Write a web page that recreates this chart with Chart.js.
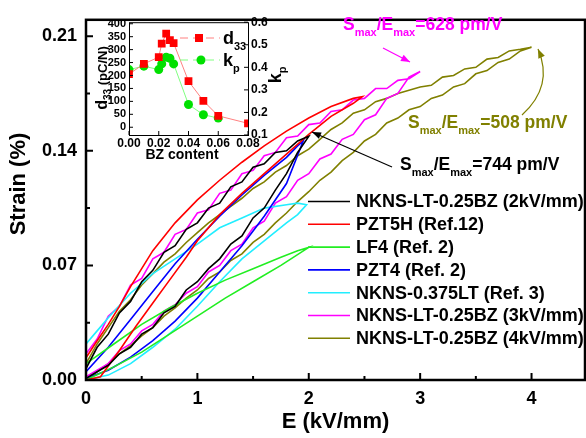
<!DOCTYPE html>
<html>
<head>
<meta charset="utf-8">
<script src="https://cdn.jsdelivr.net/npm/chart.js@4.4.0/dist/chart.umd.min.js"></script>
<style>
  body { margin: 0; background: #fff; }
  #wrap { position: relative; width: 586px; height: 438px; }
  #main { position: absolute; left: 0; top: 0; }
  #inset { position: absolute; left: 88px; top: 12px; }
</style>
</head>
<body>
<div id="wrap">
  <canvas id="main" width="586" height="438"></canvas>
  <canvas id="inset" width="206" height="160"></canvas>
</div>
<script>
const FONT = "'Liberation Sans', Arial, sans-serif";
Chart.defaults.font.family = FONT;
Chart.defaults.color = '#000';

// strain loops: ascending branch, then descending branch back to E = 0
const blackE = [0,0.1,0.2,0.3,0.4,0.5,0.6,0.7,0.8,0.9,1.0,1.1,1.2,1.3,1.4,1.5,1.6,1.7,1.8,1.9,2.0,
                1.9,1.8,1.7,1.6,1.5,1.4,1.3,1.2,1.1,1.0,0.9,0.8,0.7,0.6,0.5,0.4,0.3,0.2,0.1,0];
const blackS = [0.001,0.005,0.009,0.016,0.020,0.028,0.032,0.041,0.045,0.055,0.060,0.068,0.074,0.083,0.088,0.099,0.105,0.116,0.126,0.139,0.1488,
                0.146,0.140,0.139,0.132,0.130,0.121,0.118,0.108,0.105,0.096,0.092,0.082,0.078,0.067,0.060,0.048,0.041,0.028,0.020,0.007];

const redE = [0,0.13,0.3,0.45,0.6,0.75,0.9,1.0,1.2,1.4,1.6,1.8,2.0,2.2,2.4,2.48,
              2.4,2.2,2.0,1.8,1.6,1.4,1.2,1.0,0.8,0.6,0.5,0.4,0.3,0.2,0.1,0];
const redS = [0,0.002,0.018,0.033,0.047,0.061,0.075,0.085,0.101,0.114,0.126,0.138,0.150,0.161,0.169,0.173,
              0.172,0.167,0.160,0.152,0.143,0.133,0.122,0.110,0.096,0.079,0.068,0.057,0.045,0.034,0.024,0.0136];

const greenE = [0,0.25,0.5,0.75,1.0,1.25,1.5,1.75,2.0, 1.9,1.75,1.5,1.25,1.0,0.75,0.5,0.25,0];
const greenS = [0,0.008,0.017,0.028,0.039,0.050,0.060,0.070,0.081, 0.079,0.075,0.068,0.061,0.053,0.044,0.034,0.022,0.010];

const blueE = [0,0.2,0.4,0.6,0.8,1.0,1.2,1.4,1.6,1.8,1.95, 1.9,1.8,1.6,1.4,1.2,1.0,0.8,0.6,0.4,0.2,0];
const blueS = [0.001,0.006,0.014,0.024,0.036,0.050,0.066,0.082,0.100,0.120,0.146, 0.143,0.136,0.125,0.113,0.100,0.086,0.071,0.054,0.037,0.020,0.005];

const cyanE = [0,0.2,0.4,0.6,0.8,1.0,1.2,1.4,1.6,1.8,1.9,1.98, 1.9,1.8,1.6,1.4,1.2,1.0,0.8,0.6,0.4,0.2,0.1,0];
const cyanS = [0,0.003,0.010,0.020,0.031,0.045,0.060,0.074,0.085,0.096,0.101,0.107, 0.108,0.107,0.105,0.099,0.093,0.083,0.074,0.065,0.053,0.038,0.030,0.022];

const magentaE = [0,0.1,0.2,0.3,0.4,0.5,0.6,0.7,0.8,0.9,1.0,1.1,1.2,1.3,1.4,1.5,1.6,1.7,1.8,1.9,2.0,2.1,2.2,2.3,2.4,2.5,2.6,2.7,2.8,2.9,3.0,
                  2.9,2.8,2.7,2.6,2.5,2.4,2.3,2.2,2.1,2.0,1.9,1.8,1.7,1.6,1.5,1.4,1.3,1.2,1.1,1.0,0.9,0.8,0.7,0.6,0.5,0.4,0.3,0.2,0.1,0];
const magentaS = [0.002,0.006,0.010,0.018,0.022,0.030,0.034,0.042,0.046,0.053,0.057,0.066,0.070,0.079,0.083,0.093,0.097,0.108,0.112,0.122,0.126,0.135,0.138,0.147,0.150,0.159,0.162,0.172,0.175,0.185,0.1884,
                  0.184,0.183,0.178,0.178,0.172,0.171,0.165,0.164,0.157,0.156,0.149,0.148,0.139,0.137,0.128,0.126,0.116,0.114,0.104,0.102,0.092,0.089,0.078,0.074,0.062,0.058,0.045,0.039,0.025,0.016];

const oliveE = [0,0.1,0.2,0.3,0.4,0.5,0.6,0.7,0.8,0.9,1.0,1.1,1.2,1.3,1.4,1.5,1.6,1.7,1.8,1.9,2.0,
                2.1,2.2,2.3,2.4,2.5,2.6,2.7,2.8,2.9,3.0,3.1,3.2,3.3,3.4,3.5,3.6,3.7,3.8,3.9,4.0,
                3.9,3.8,3.7,3.6,3.5,3.4,3.3,3.2,3.1,3.0,2.9,2.8,2.7,2.6,2.5,2.4,2.3,2.2,2.1,2.0,
                1.9,1.8,1.7,1.6,1.5,1.4,1.3,1.2,1.1,1.0,0.9,0.8,0.7,0.6,0.5,0.4,0.3,0.2,0.1,0];
const oliveS = [0.000,0.005,0.010,0.016,0.021,0.027,0.032,0.039,0.044,0.050,0.055,0.062,0.066,0.073,0.077,0.084,0.089,0.096,0.102,0.109,0.115,
                0.122,0.127,0.134,0.139,0.146,0.150,0.157,0.160,0.165,0.167,0.172,0.174,0.179,0.181,0.187,0.189,0.194,0.196,0.201,0.2032,
                0.202,0.201,0.197,0.196,0.191,0.190,0.186,0.185,0.180,0.179,0.177,0.175,0.172,0.170,0.165,0.163,0.157,0.153,0.147,0.141,
                0.137,0.131,0.127,0.121,0.117,0.111,0.106,0.101,0.096,0.090,0.084,0.077,0.072,0.065,0.058,0.049,0.042,0.032,0.022,0.010];

const seriesNames = ['NKNS-LT-0.25BZ (2kV/mm)', 'PZT5H (Ref.12)', 'LF4 (Ref. 2)', 'PZT4 (Ref. 2)',
                     'NKNS-0.375LT (Ref. 3)', 'NKNS-LT-0.25BZ (3kV/mm)', 'NKNS-LT-0.25BZ (4kV/mm)'];
const seriesColors = ['#000000', '#ff0000', '#22ee22', '#0000ff', '#22eeff', '#ff00ff', '#808000'];
const seriesE = [blackE, redE, greenE, blueE, cyanE, magentaE, oliveE];
const seriesS = [blackS, redS, greenS, blueS, cyanS, magentaS, oliveS];

const fieldTicks = [0, 1, 2, 3, 4];
const fieldMinor = [0.5, 1.5, 2.5, 3.5];
const strainTicks = [0, 0.07, 0.14, 0.21];
const strainMinor = [0.035, 0.105, 0.175];

// inset: d33 and kp against BZ content
const d33Content = [0, 0.01, 0.02, 0.022, 0.025, 0.0275, 0.03, 0.04, 0.05, 0.06, 0.08];
const d33Values  = [205, 245, 271, 323, 362, 337, 325, 178, 102, 44, 15];
const kpContent  = [0, 0.01, 0.02, 0.022, 0.025, 0.0275, 0.03, 0.04, 0.05, 0.06];
const kpValues   = [0.39, 0.405, 0.39, 0.415, 0.445, 0.44, 0.415, 0.235, 0.19, 0.175];
const bzTicks  = [0, 0.02, 0.04, 0.06, 0.08];
const d33Ticks = [0, 50, 100, 150, 200, 250, 300, 350, 400];
const kpTicks  = [0.1, 0.2, 0.3, 0.4, 0.5, 0.6];

function bold(size) { return 'bold ' + size + 'px ' + FONT; }

function richWidth(ctx, parts) {
  let w = 0;
  parts.forEach(p => { ctx.font = bold(p.size); w += ctx.measureText(p.text).width; });
  return w;
}

function drawRich(ctx, parts, x, y, color) {
  ctx.fillStyle = color;
  ctx.textAlign = 'left';
  ctx.textBaseline = 'alphabetic';
  parts.forEach(p => {
    ctx.font = bold(p.size);
    ctx.fillText(p.text, x, y + (p.dy || 0));
    x += ctx.measureText(p.text).width;
  });
}

function arrowHead(ctx, x, y, ang, color) {
  ctx.fillStyle = color;
  ctx.beginPath();
  ctx.moveTo(x, y);
  ctx.lineTo(x - 9 * Math.cos(ang) + 3.5 * Math.sin(ang), y - 9 * Math.sin(ang) - 3.5 * Math.cos(ang));
  ctx.lineTo(x - 9 * Math.cos(ang) - 3.5 * Math.sin(ang), y - 9 * Math.sin(ang) + 3.5 * Math.cos(ang));
  ctx.closePath();
  ctx.fill();
}

function ratioParts(val) {
  return [
    { text: 'S', size: 17.5 }, { text: 'max', size: 11, dy: 6 },
    { text: '/E', size: 17.5 }, { text: 'max', size: 11, dy: 6 },
    { text: '=' + val + ' pm/V', size: 17.5 }
  ];
}

// frame plus inward tick marks
const mainFrame = {
  id: 'mainFrame',
  afterDatasetsDraw(chart) {
    const { ctx, chartArea: a, scales: { x, y } } = chart;
    ctx.save();
    ctx.strokeStyle = '#000';
    ctx.lineWidth = 2.5;
    ctx.strokeRect(a.left, a.top, a.right - a.left, a.bottom - a.top);
    ctx.lineWidth = 2;
    ctx.beginPath();
    fieldTicks.forEach(v => { const px = x.getPixelForValue(v); ctx.moveTo(px, a.bottom); ctx.lineTo(px, a.bottom - 7); });
    fieldMinor.forEach(v => { const px = x.getPixelForValue(v); ctx.moveTo(px, a.bottom); ctx.lineTo(px, a.bottom - 4); });
    strainTicks.forEach(v => { const py = y.getPixelForValue(v); ctx.moveTo(a.left, py); ctx.lineTo(a.left + 7, py); });
    strainMinor.forEach(v => { const py = y.getPixelForValue(v); ctx.moveTo(a.left, py); ctx.lineTo(a.left + 4, py); });
    ctx.stroke();

    // y title sits a little above the middle of the axis
    ctx.translate(19, 184);
    ctx.rotate(-Math.PI / 2);
    ctx.fillStyle = '#000';
    ctx.font = bold(22);
    ctx.textAlign = 'center';
    ctx.textBaseline = 'middle';
    ctx.fillText('Strain (%)', 0, 0);
    ctx.restore();
  }
};

// legend and S/E annotations
const mainNotes = {
  id: 'mainNotes',
  afterDraw(chart) {
    const ctx = chart.ctx;
    ctx.save();
    seriesNames.forEach((name, i) => {
      const yy = 201.5 + i * 22.8;
      ctx.strokeStyle = seriesColors[i];
      ctx.lineWidth = 1.6;
      ctx.beginPath(); ctx.moveTo(308, yy); ctx.lineTo(350, yy); ctx.stroke();
      ctx.fillStyle = '#000';
      ctx.font = bold(18);
      ctx.textAlign = 'left';
      ctx.textBaseline = 'middle';
      ctx.fillText(name, 356, yy + 1);
    });

    drawRich(ctx, ratioParts(628), 343, 30, '#ff00ff');
    drawRich(ctx, ratioParts(508), 408, 128, '#808000');
    drawRich(ctx, ratioParts(744), 400, 170, '#000000');

    ctx.lineWidth = 1.2;
    ctx.strokeStyle = '#ff00ff';
    ctx.beginPath(); ctx.moveTo(383, 48); ctx.lineTo(410, 62); ctx.stroke();
    arrowHead(ctx, 410, 62, Math.atan2(14, 27), '#ff00ff');

    ctx.strokeStyle = '#000';
    ctx.beginPath(); ctx.moveTo(392, 167); ctx.lineTo(312, 132); ctx.stroke();
    arrowHead(ctx, 312, 132, Math.atan2(-35, -80), '#000');

    ctx.strokeStyle = '#808000';
    ctx.beginPath(); ctx.moveTo(522, 115); ctx.quadraticCurveTo(554, 86, 538, 49); ctx.stroke();
    arrowHead(ctx, 538, 49, Math.atan2(49 - 86, 538 - 554), '#808000');
    ctx.restore();
  }
};

new Chart(document.getElementById('main'), {
  type: 'scatter',
  data: {
    datasets: seriesNames.map((name, i) => ({
      label: name,
      data: seriesE[i].map((e, j) => ({ x: e, y: seriesS[i][j] })),
      showLine: true,
      borderColor: seriesColors[i],
      borderWidth: 1.6,
      pointRadius: 0,
      fill: false
    }))
  },
  options: {
    responsive: false,
    animation: false,
    events: [],
    layout: { padding: { top: 11, right: 1, left: 0, bottom: 0 } },
    plugins: { legend: { display: false }, tooltip: { enabled: false } },
    scales: {
      x: {
        type: 'linear', min: 0, max: 4.48,
        afterFit(s) { s.height = 58; },
        afterBuildTicks(s) { s.ticks = fieldTicks.map(v => ({ value: v })); },
        grid: { display: false, drawTicks: false },
        border: { display: false },
        ticks: { padding: 8, maxRotation: 0, autoSkip: false, font: { size: 18, weight: 'bold' } },
        title: { display: true, text: 'E (kV/mm)', font: { size: 22, weight: 'bold' }, padding: { top: 0, bottom: 3 } }
      },
      y: {
        type: 'linear', min: 0, max: 0.22,
        afterFit(s) { s.width = 86; },
        afterBuildTicks(s) { s.ticks = strainTicks.map(v => ({ value: v })); },
        grid: { display: false, drawTicks: false },
        border: { display: false },
        ticks: { padding: 9, autoSkip: false, font: { size: 18, weight: 'bold' }, callback: v => v.toFixed(2) }
      }
    }
  },
  plugins: [mainFrame, mainNotes]
});

// inset frame, ticks, titles and legend
const insetFrame = {
  id: 'insetFrame',
  afterDatasetsDraw(chart) {
    const { ctx, chartArea: a, scales: { x, yL, yR } } = chart;
    ctx.save();
    ctx.strokeStyle = '#000';
    ctx.lineWidth = 1;
    ctx.strokeRect(a.left + 0.5, a.top + 0.5, a.right - a.left, a.bottom - a.top);
    ctx.beginPath();
    bzTicks.forEach(v => { const px = x.getPixelForValue(v); ctx.moveTo(px, a.bottom); ctx.lineTo(px, a.bottom - 4); });
    d33Ticks.forEach(v => { const py = yL.getPixelForValue(v); ctx.moveTo(a.left, py); ctx.lineTo(a.left + 4, py); });
    kpTicks.forEach(v => { const py = yR.getPixelForValue(v); ctx.moveTo(a.right, py); ctx.lineTo(a.right - 4, py); });
    ctx.stroke();

    // axis titles
    ctx.save();
    ctx.translate(19, 66);
    ctx.rotate(-Math.PI / 2);
    const d33Title = [{ text: 'd', size: 16 }, { text: '33', size: 10, dy: 4 }, { text: ' (pC/N)', size: 13 }];
    drawRich(ctx, d33Title, -richWidth(ctx, d33Title) / 2, 0, '#000');
    ctx.restore();

    ctx.save();
    ctx.translate(193, 63);
    ctx.rotate(-Math.PI / 2);
    const kpTitle = [{ text: 'k', size: 18 }, { text: 'p', size: 11, dy: 5 }];
    drawRich(ctx, kpTitle, -richWidth(ctx, kpTitle) / 2, 0, '#000');
    ctx.restore();

    ctx.fillStyle = '#000';
    ctx.font = bold(14);
    ctx.textAlign = 'center';
    ctx.textBaseline = 'middle';
    ctx.fillText('BZ content', 94, 143);

    // legend
    const rows = [
      { y: 26, line: '#ff8080', mark: '#ff0000', rect: true, label: [{ text: 'd', size: 18 }, { text: '33', size: 11, dy: 6 }] },
      { y: 48, line: '#80ff80', mark: '#00e000', rect: false, label: [{ text: 'k', size: 18 }, { text: 'p', size: 11, dy: 6 }] }
    ];
    rows.forEach(r => {
      ctx.strokeStyle = r.line;
      ctx.setLineDash([8, 5]);
      ctx.beginPath(); ctx.moveTo(92, r.y); ctx.lineTo(132, r.y); ctx.stroke();
      ctx.setLineDash([]);
      ctx.fillStyle = r.mark;
      if (r.rect) ctx.fillRect(107, r.y - 4, 8, 8);
      else { ctx.beginPath(); ctx.arc(113, r.y, 4.5, 0, Math.PI * 2); ctx.fill(); }
      drawRich(ctx, r.label, 135, r.y + 6, '#000');
    });
    ctx.restore();
  }
};

new Chart(document.getElementById('inset'), {
  type: 'scatter',
  data: {
    datasets: [
      {
        label: 'd33',
        data: d33Content.map((c, i) => ({ x: c, y: d33Values[i] })),
        yAxisID: 'yL',
        showLine: true,
        borderColor: '#ff8080',
        borderWidth: 1,
        pointStyle: 'rect',
        pointRadius: 5.5,
        pointBackgroundColor: '#ff0000',
        pointBorderColor: '#ff0000',
        pointBorderWidth: 0
      },
      {
        label: 'kp',
        data: kpContent.map((c, i) => ({ x: c, y: kpValues[i] })),
        yAxisID: 'yR',
        showLine: true,
        borderColor: '#80ff80',
        borderWidth: 1,
        pointStyle: 'circle',
        pointRadius: 4.5,
        pointBackgroundColor: '#00e000',
        pointBorderColor: '#00e000',
        pointBorderWidth: 0
      }
    ]
  },
  options: {
    responsive: false,
    animation: false,
    events: [],
    layout: { padding: { top: 9, left: 0, right: 0, bottom: 0 } },
    plugins: { legend: { display: false }, tooltip: { enabled: false } },
    scales: {
      x: {
        type: 'linear', min: 0, max: 0.08,
        afterFit(s) { s.height = 37; },
        afterBuildTicks(s) { s.ticks = bzTicks.map(v => ({ value: v })); },
        grid: { display: false, drawTicks: false },
        border: { display: false },
        ticks: { padding: 1, maxRotation: 0, autoSkip: false, font: { size: 12, weight: 'bold' }, callback: v => v.toFixed(2) }
      },
      yL: {
        type: 'linear', position: 'left', min: -30, max: 406,
        afterFit(s) { s.width = 41; },
        afterBuildTicks(s) { s.ticks = d33Ticks.map(v => ({ value: v })); },
        grid: { display: false, drawTicks: false },
        border: { display: false },
        ticks: { padding: 3, autoSkip: false, font: { size: 11, weight: 'bold' } }
      },
      yR: {
        type: 'linear', position: 'right', min: 0.1, max: 0.6,
        afterFit(s) { s.width = 46; },
        afterBuildTicks(s) { s.ticks = kpTicks.map(v => ({ value: v })); },
        grid: { display: false, drawTicks: false },
        border: { display: false },
        ticks: { padding: 3, autoSkip: false, font: { size: 12, weight: 'bold' }, callback: v => v.toFixed(1) }
      }
    }
  },
  plugins: [insetFrame]
});
</script>
</body>
</html>
